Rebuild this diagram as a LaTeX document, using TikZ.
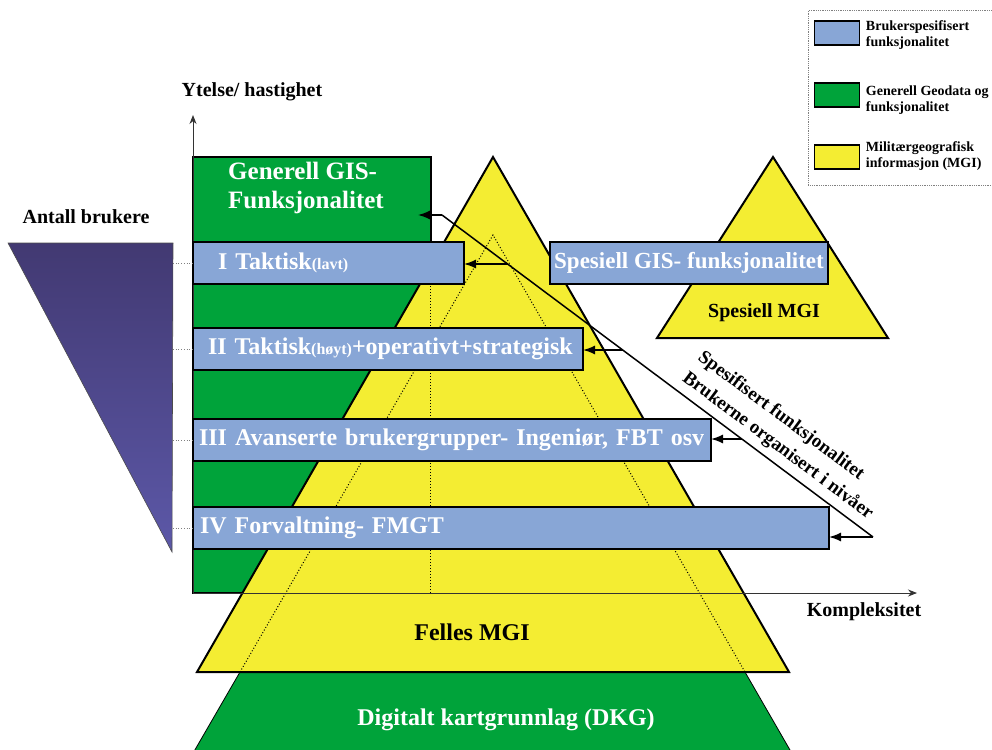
\documentclass[tikz,border=0pt]{standalone}
\usepackage{fontspec}
\setmainfont{Liberation Serif}
\usepackage{tikz}
\usetikzlibrary{arrows.meta,positioning,calc}

\definecolor{usrblue}{RGB}{136,166,214}
\definecolor{geogreen}{RGB}{0,163,58}
\definecolor{mgiyellow}{RGB}{244,237,50}
\definecolor{usrtop}{RGB}{66,57,114}
\definecolor{usrmid}{RGB}{74,75,155}
\definecolor{usrbot}{RGB}{92,88,168}

\newcommand{\lowtxt}[1]{{\fontsize{16}{18}\selectfont #1}}

\tikzset{
  lvl/.style={draw=black, line width=2pt, fill=usrblue, text=white, anchor=west, align=left,
    outer sep=0pt, minimum height=42pt, font=\bfseries\fontsize{24}{28}\selectfont},
  mgi/.style={draw=black, line width=2pt, fill=mgiyellow},
  hid/.style={draw=black, dotted, line width=1pt},
  axis/.style={draw=black!80, line width=1pt, -{Stealth[length=9pt,width=7pt]}},
  pin/.style={draw=black, line width=1.5pt, -{Latex[length=12pt,width=9pt]}},
  guide/.style={draw=gray, dotted, line width=0.7pt},
  lbl/.style={font=\bfseries\fontsize{20}{24}\selectfont},
  big/.style={font=\bfseries\fontsize{24}{28}\selectfont},
  rot/.style={rotate=-36.76, anchor=west, align=left, inner sep=0pt,
    font=\bfseries\fontsize{19}{26}\selectfont},
  key/.style={draw=black, line width=1.8pt, minimum width=45pt, minimum height=24pt, inner sep=0pt},
  keytxt/.style={anchor=west, align=left, font=\bfseries\fontsize{14}{16}\selectfont}
}

\begin{document}
\begin{tikzpicture}[x=1pt,y=-1pt]
  \useasboundingbox (0,0) rectangle (992,749);

  % generell GIS
  \node (gis) [draw=black, line width=1.5pt, fill=geogreen, anchor=north west, outer sep=0pt,
    minimum width=238pt, minimum height=436pt, inner sep=0pt] at (193,157) {};
  \node (gistxt) [anchor=west, align=left, inner sep=0pt, text=white,
    font=\bfseries\fontsize{25}{29}\selectfont] at (228,188) {Generell GIS-\\Funksjonalitet};

  % DKG and felles MGI
  \coordinate (pk) at (493,235);
  \coordinate (pl) at (240,672);
  \coordinate (pr) at (745,672);
  \filldraw [fill=geogreen, draw=black, line width=0.8pt]
    (pl) -- ($(pk)!1.2!(pl)$) -- ($(pk)!1.2!(pr)$) -- (pr) -- cycle;
  \node (dkg) [big, text=white] at (506,720) {Digitalt kartgrunnlag (DKG)};

  \coordinate (ya) at (493,157);
  \coordinate (yl) at (197,672);
  \coordinate (yr) at (789,672);
  \filldraw [mgi] (ya) -- (yl) -- (yr) -- cycle;
  \node (felles) [big] at (472,632) {Felles MGI};

  \draw [hid] (pl) -- (pk) -- (pr);
  \draw [hid] ([xshift=-1pt]gis.north east) -- ([xshift=-1pt]gis.south east);

  % axes
  \coordinate (ytip) at (193,115);
  \coordinate (xtip) at (917,593);
  \draw [axis] (gis.south west) -- (ytip);
  \draw [axis] (gis.south west) -- (xtip);
  \node (ytl) [lbl] at (252,92) {Ytelse/ hastighet};
  \node (xtl) [lbl] at (864,612) {Kompleksitet};

  % levels
  \node (b1) [lvl, inner xsep=25pt, text width=221pt] at (193,263) {I Taktisk\lowtxt{(lavt)}};
  \node (b2) [lvl, inner xsep=15pt, text width=360pt] at (193,349) {\mbox{II Taktisk\lowtxt{(høyt)}+operativt+strategisk}};
  \node (b3) [lvl, inner xsep=6pt, text width=506pt] at (193,440) {III Avanserte brukergrupper- Ingeniør, FBT osv};
  \node (b4) [lvl, inner xsep=7pt, text width=622pt] at (193,528) {IV Forvaltning- FMGT};

  % spesiell MGI
  \filldraw [mgi] (773,157) -- (657,338) -- (888,338) -- cycle;
  \node (smgi) [lbl] at (764,313) {Spesiell MGI};
  \node (sgis) [lvl, anchor=center, align=center, minimum width=278pt,
    font=\bfseries\fontsize{23}{27}\selectfont] at (689,263) {Spesiell GIS- funksjonalitet};

  % spesifisert funksjonalitet
  \coordinate (d0) at (442,215);
  \coordinate (d1) at (508,264);
  \coordinate (d2) at (623,350);
  \coordinate (d3) at (742,439);
  \coordinate (d4) at (873,537);
  \coordinate (gtip) at (418,215);
  \draw [line width=1.5pt] (d0) -- (d4);
  \draw [pin] (d0) -- (gtip);
  \draw [pin] (d1) -- (d1 -| b1.east);
  \draw [pin] (d2) -- (d2 -| b2.east);
  \draw [pin] (d3) -- (d3 -| b3.east);
  \draw [pin] (d4) -- (d4 -| b4.east);
  \node (spf) [rot] at (692,366) {Spesifisert funksjonalitet\\Brukerne organisert i nivåer};

  % antall brukere
  \coordinate (ua) at (8,243);
  \coordinate (ub) at (173,243);
  \coordinate (uc) at (172,552);
  \draw [draw=black!70, line width=0.6pt, top color=usrtop, middle color=usrmid, bottom color=usrbot]
    (ua) -- (ub) -- (uc) -- cycle;
  \node (antall) [lbl] at (86,217) {Antall brukere};
  \foreach \b in {b1,b2,b3,b4}
    \draw [guide] (ub |- \b.west) -- (\b.west);

  % legend
  \node (leg) [draw=gray, densely dotted, line width=0.8pt, anchor=north west,
    minimum width=230pt, minimum height=175pt] at (808,10) {};
  \node (k1) [key, fill=usrblue] at (837,33) {};
  \node (k2) [key, fill=geogreen] at (837,95) {};
  \node (k3) [key, fill=mgiyellow] at (837,157) {};
  \node (t1) [keytxt, right=2pt of k1, yshift=-2pt] {Brukerspesifisert\\funksjonalitet};
  \node (t2) [keytxt, right=2pt of k2, yshift=-5pt] {Generell Geodata og\\funksjonalitet};
  \node (t3) [keytxt, right=2pt of k3, yshift=1pt] {Militærgeografisk\\informasjon (MGI)};
\end{tikzpicture}
\end{document}
